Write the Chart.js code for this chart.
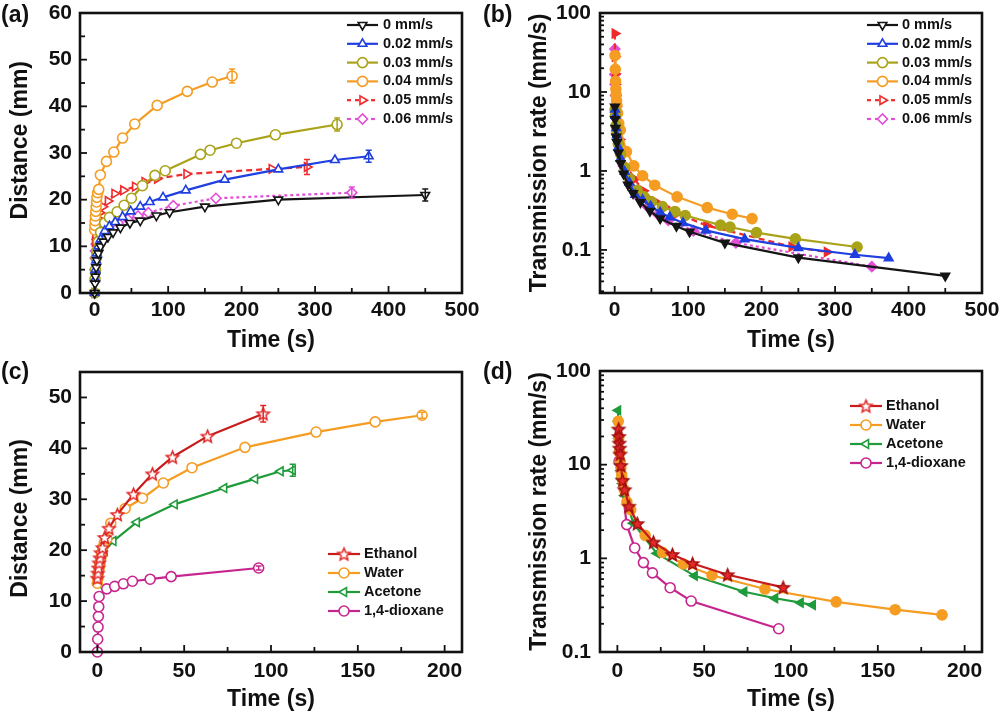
<!DOCTYPE html>
<html><head><meta charset="utf-8">
<script src="https://cdn.jsdelivr.net/npm/chart.js@4.4.0/dist/chart.umd.min.js"></script>
<style>
body{margin:0;background:#fff;}
#wrap{position:relative;width:1000px;height:714px;overflow:hidden;background:#fff;}
.pane{position:absolute;width:500px;height:357px;}
.pane canvas{display:block;}
.lbl{position:absolute;font:bold 23px "Liberation Sans",Arial,sans-serif;color:#111;line-height:23px;}
</style></head><body>
<div id="wrap">
<div class="pane" style="left:0;top:0"><canvas id="ca" width="500" height="357"></canvas></div>
<div class="pane" style="left:500px;top:0"><canvas id="cb" width="500" height="357"></canvas></div>
<div class="pane" style="left:0;top:357px"><canvas id="cc" width="500" height="357"></canvas></div>
<div class="pane" style="left:500px;top:357px"><canvas id="cd" width="500" height="357"></canvas></div>
<div class="lbl" style="left:1px;top:3px">(a)</div>
<div class="lbl" style="left:483px;top:3px">(b)</div>
<div class="lbl" style="left:1px;top:360px">(c)</div>
<div class="lbl" style="left:483px;top:360px">(d)</div>
</div>
<script>
// ---------------- DATA ----------------
const rateLabels = ['0 mm/s','0.02 mm/s','0.03 mm/s','0.04 mm/s','0.05 mm/s','0.06 mm/s'];
const solventLabels = ['Ethanol','Water','Acetone','1,4-dioxane'];
const logTicks = [0.1, 1, 10, 100];

// (a) distance vs time, and (b) transmission rate vs time
const t0   = [0,0.5,1,2,3,5,8,12,18,25,35,48,62,84,102,150,250,450];
const d0   = [0,2,3.5,5.5,7,8.5,10,11,12,13,14,15,15.5,16.6,17.3,18.5,20,21];
const rt0  = [0.3,0.5,1,2,3,5,8,12,18,25,35,48,62,84,102,150,250,450];
const r0   = [6.5,4.5,3.5,2.7,2.3,1.7,1.25,0.92,0.67,0.52,0.4,0.31,0.25,0.2,0.17,0.123,0.08,0.047];

const t002 = [0,0.5,1,2,3,5,8,13.6,20,28,38,49,62,75,93,124,177,250,327,373];
const d002 = [0,3,5,7,8.5,10,11.5,13.3,14.3,15.2,16.3,17.5,18.5,19.5,20.5,22,24.3,26.5,28.5,29.3];
const rt002= [0.5,1,2,3,5,8,13.6,20,28,38,49,62,75,93,124,177,250,327,373];
const r002 = [6,5,3.5,2.83,2,1.44,0.98,0.715,0.5,0.43,0.357,0.298,0.26,0.22,0.177,0.137,0.106,0.087,0.0786];

const t003 = [0,0.5,1,2,3,5,8,13.6,20,30.5,40,50,65,82,96,144,157,193,246,330];
const d003 = [0,3,5,7.5,9,11,13,15,16.2,17.4,18.8,20.3,23,25.2,26.2,29.7,30.6,32.1,33.9,36.1];
const rt003= [0.5,1,2,3,5,8,13.6,20,30.5,40,50,65,82,96,144,157,193,246,330];
const r003 = [6,5,3.75,3,2.2,1.63,1.1,0.81,0.57,0.47,0.406,0.354,0.307,0.273,0.206,0.195,0.166,0.138,0.109];

// 0.04 mm/s is the water run
const tW   = [0,0.3,0.6,1,1.5,2,2.5,3,4,5.5,7.7,16,26,38,54.5,85,126,160,187];
const dW   = [13.5,14.5,15.5,16.5,17.5,18.5,19.5,20.5,21.5,22.2,25.3,28.2,30.2,33.2,36.2,40.2,43.2,45.2,46.5];
const rtW  = [0.5,0.8,1.2,1.6,2,2.5,3,4,5.5,7.7,16,26,38,54.5,85,126,160,187];
const rW   = [29,19.4,13.7,10.9,9.25,7.8,6.8,5.4,4,3.3,1.76,1.16,0.87,0.66,0.47,0.343,0.283,0.249];

const t005 = [0,0.2,0.5,1,1.5,2.3,4,6.8,11,18,27,39,55,68,85,125,241,289];
const d005 = [0,8,11,12.5,13.5,14.9,16,17.2,18.5,19.7,21.3,22,22.8,23.8,24.5,25.5,26.6,27];
const rt005= [0.2,0.4,0.7,1,1.5,2.3,4,6.8,11,18,27,39,55,68,85,125,241,289];
const r005 = [55,28,17,12.5,9,6.5,4,2.5,1.68,1.09,0.79,0.56,0.41,0.35,0.29,0.204,0.11,0.094];

const t006 = [0,0.3,0.6,1,2,3,5,8,12,20,32,45,59,73,107,165,350];
const d006 = [0,5,7.5,9,10.5,11.5,12.5,13.3,13.8,14.4,15,15.8,16.5,17.2,18.7,20.3,21.5];
const rt006= [0.15,0.3,0.6,1,2,3,5,8,12,20,32,45,59,73,107,165,350];
const r006 = [35,16.7,12.5,9,5.25,3.83,2.5,1.66,1.15,0.72,0.47,0.35,0.28,0.236,0.175,0.123,0.0614];

// end-point error bars (mm) in (a)
const errEndA = [1.3, 1.3, 1.4, 1.5, 1.6, 1.2];

// (c) distance and (d) rate, solvents
const tE   = [0,0.3,0.6,1,1.5,2,3,4.2,6.7,11.5,20.8,31.7,43.3,63.5,95.5];
const dE   = [14.5,15.5,16.5,17.5,18.5,19.5,20.5,22.5,24.3,27,31,35,38.3,42.4,46.8];
const rtE  = [0.7,0.9,1.1,1.3,1.6,2,3,4.2,6.7,11.5,20.8,31.7,43.3,63.5,95.5];
const rE   = [24,20,17,15,13,9.8,6.8,5.4,3.6,2.35,1.49,1.1,0.88,0.668,0.49];

const tA   = [0.35,0.5,0.8,1.2,1.6,2,2.5,3,4.2,9.2,22.7,44.5,73,90.8,105.5,112.5];
const dA   = [13.5,14.5,15.2,15.9,16.5,17.2,18,18.8,19.9,21.8,25.5,29,32.2,34,35.5,35.7];
const rA   = [38,29,19,13.2,10.3,8.6,7.2,6.3,4.7,2.37,1.13,0.65,0.44,0.375,0.336,0.317];

const tD   = [0,0.2,0.4,0.6,0.8,1,5.4,10,15,20.2,30.4,42.5,92.9];
const dD   = [0,2.5,4.9,7,8.9,10.9,12.4,12.9,13.4,13.9,14.3,14.8,16.5];
const rtD  = [1,5.4,10,15,20.2,30.4,42.5,92.9];
const rD   = [10.9,2.29,1.29,0.9,0.7,0.486,0.35,0.177];

// end-point error bars (mm) in (c)
const errEndC = [1.6, 0.6, 1.2, 0.4];

// ---------------- HELPERS ----------------
const FONT = '"Liberation Sans", Arial, Helvetica, sans-serif';
const tickFont = {family: FONT, size: 21, weight: 'bold'};
const titleFont = {family: FONT, size: 23, weight: 'bold'};
const NB = '\u00a0';

function pts(xs, ys){ return xs.map((x,i)=>({x:x, y:ys[i]})); }

function starCanvas(stroke, fill, R){
  const s = Math.ceil(R*2+4);
  const c = document.createElement('canvas'); c.width = s; c.height = s;
  const g = c.getContext('2d');
  g.translate(s/2, s/2+0.6);
  g.beginPath();
  for (let k=0;k<10;k++){
    const rr = (k%2) ? R*0.45 : R;
    const ang = -Math.PI/2 + k*Math.PI/5;
    g.lineTo(rr*Math.cos(ang), rr*Math.sin(ang));
  }
  g.closePath();
  g.fillStyle = fill; g.fill();
  g.lineWidth = 1.5; g.strokeStyle = stroke; g.stroke();
  return c;
}

function ds(label, xs, ys, st, filled, errEnd){
  return {
    label: label, data: pts(xs, ys), showLine: true,
    borderColor: st.line || st.color, borderWidth: 2.2, borderDash: st.dash || [],
    pointStyle: filled && st.styleF ? st.styleF : st.style, legendStyle: st.style,
    pointRotation: st.rot || 0, pointRadius: st.r || 5,
    pointBorderColor: st.color, pointBackgroundColor: filled ? st.color : '#ffffff',
    pointBorderWidth: 1.6, tension: 0, clip: false,
    errEnd: errEnd || 0
  };
}

const framePlugin = {
  id: 'frame',
  afterDatasetsDraw(chart){
    // end-point error bars
    const ctx = chart.ctx;
    chart.data.datasets.forEach((d,i)=>{
      if (!d.errEnd) return;
      const meta = chart.getDatasetMeta(i);
      const last = d.data[d.data.length-1];
      const x = chart.scales.x.getPixelForValue(last.x);
      const y1 = chart.scales.y.getPixelForValue(last.y + d.errEnd);
      const y2 = chart.scales.y.getPixelForValue(last.y - d.errEnd);
      ctx.save(); ctx.strokeStyle = d.pointBorderColor; ctx.lineWidth = 1.5;
      ctx.beginPath(); ctx.moveTo(x,y1); ctx.lineTo(x,y2);
      ctx.moveTo(x-3,y1); ctx.lineTo(x+3,y1); ctx.moveTo(x-3,y2); ctx.lineTo(x+3,y2); ctx.stroke();
      ctx.restore();
    });
  },
  afterDraw(chart){
    const ctx = chart.ctx, a = chart.chartArea;
    const xs = chart.scales.x, ys = chart.scales.y;
    ctx.save();
    ctx.strokeStyle = '#111'; ctx.lineWidth = 1.8;
    const line = (x1,y1,x2,y2)=>{ctx.beginPath();ctx.moveTo(x1,y1);ctx.lineTo(x2,y2);ctx.stroke();};
    const linTicks = (sc)=>{
      const v = sc.ticks.map(t=>t.value);
      const step = v[1]-v[0];
      const minor = [];
      v.map(x=>x+step/2).concat([v[0]-step/2]).forEach(m=>{ if (m>sc.min && m<sc.max) minor.push(m); });
      return {major: v, minor};
    };
    const xt = linTicks(xs);
    xt.major.forEach(v=>{const p=xs.getPixelForValue(v); line(p,a.bottom,p,a.bottom-7);});
    xt.minor.forEach(v=>{const p=xs.getPixelForValue(v); line(p,a.bottom,p,a.bottom-5);});
    if (ys.type === 'logarithmic'){
      const lo = Math.floor(Math.log10(ys.min)), hi = Math.ceil(Math.log10(ys.max));
      for (let d=lo; d<=hi; d++){
        for (let k=1;k<=9;k++){
          const v = k*Math.pow(10,d);
          if (v < ys.min*0.999 || v > ys.max*1.001) continue;
          const p = ys.getPixelForValue(v);
          line(a.left, p, a.left + (k===1?7:4), p);
        }
      }
    } else {
      const yt = linTicks(ys);
      yt.major.forEach(v=>{const p=ys.getPixelForValue(v); line(a.left,p,a.left+7,p);});
      yt.minor.forEach(v=>{const p=ys.getPixelForValue(v); line(a.left,p,a.left+5,p);});
    }
    ctx.lineWidth = 2.6;
    ctx.strokeRect(a.left, a.top, a.right-a.left, a.bottom-a.top);
    ctx.restore();
  }
};

const legendPlugin = {
  id: 'kleg',
  afterDraw(chart, args, o){
    const ctx = chart.ctx;
    chart.data.datasets.forEach((d,i)=>{
      const y = o.y0 + i*o.dy;
      ctx.save();
      ctx.strokeStyle = d.borderColor; ctx.lineWidth = 2.2;
      ctx.setLineDash(d.borderDash && d.borderDash.length ? [4,4] : []);
      ctx.beginPath(); ctx.moveTo(o.x0, y); ctx.lineTo(o.x1, y); ctx.stroke();
      ctx.setLineDash([]);
      ctx.fillStyle = '#ffffff'; ctx.strokeStyle = d.pointBorderColor; ctx.lineWidth = 1.6;
      Chart.helpers.drawPoint(ctx, {pointStyle: d.legendStyle, rotation: d.pointRotation, radius: 5, borderWidth: 1.6}, (o.x0+o.x1)/2, y);
      ctx.fillStyle = '#111';
      ctx.font = 'bold 14.5px ' + FONT;
      ctx.textBaseline = 'middle'; ctx.textAlign = 'left';
      ctx.fillText(d.label, o.tx, y);
      ctx.restore();
    });
  }
};

function makeChart(id, datasets, c){
  const yAxis = c.log ? {
    type: 'logarithmic', min: c.ymin, max: c.ymax,
    afterBuildTicks: s=>{ s.ticks = logTicks.map(v=>({value:v})); },
    afterFit: s=>{ s.width = c.yw; s.paddingTop = 0; s.paddingBottom = 0; },
    ticks: {callback: v=>String(v), autoSkip:false, padding: 9, color:'#111', font: tickFont},
    grid: {display:false, drawTicks:false}, border: {display:false},
    title: {display:true, text: c.ytitle, color:'#111', font:titleFont, padding:{top:c.ytp, bottom:0}}
  } : {
    type: 'linear', min: c.ymin, max: c.ymax,
    afterFit: s=>{ s.width = c.yw; s.paddingTop = 0; s.paddingBottom = 0; },
    ticks: {stepSize: c.ystep, includeBounds:false, autoSkip:false, padding: 8, color:'#111', font: tickFont},
    grid: {display:false, drawTicks:false}, border: {display:false},
    title: {display:true, text: c.ytitle, color:'#111', font:titleFont, padding:{top:c.ytp, bottom:0}}
  };
  return new Chart(document.getElementById(id), {
    type: 'scatter',
    data: {datasets: datasets},
    options: {
      responsive: false, animation: false, events: [],
      layout: {padding: {top: c.pt, right: c.pr, left: 0, bottom: 0}},
      plugins: {legend: {display:false}, tooltip: {enabled:false}, kleg: c.leg},
      scales: {
        x: {
          type: 'linear', min: c.xmin, max: c.xmax,
          afterFit: s=>{ s.height = c.xh; s.paddingLeft = 0; s.paddingRight = 0; },
          ticks: {stepSize: c.xstep, includeBounds:false, autoSkip:false, maxRotation:0, padding: c.xpad, color:'#111', font: tickFont},
          grid: {display:false, drawTicks:false}, border: {display:false},
          title: {display:true, text:'Time (s)', color:'#111', font:titleFont, padding:{top:0, bottom:c.xtp}}
        },
        y: yAxis
      }
    },
    plugins: [framePlugin, legendPlugin]
  });
}

// ---------------- STYLES ----------------
const S0   = {color:'#151515', style:'triangle', rot:180};
const S002 = {color:'#1f3fe0', style:'triangle'};
const S003 = {color:'#aaa31a', style:'circle'};
const S004 = {color:'#f59c22', style:'circle'};
const S005 = {color:'#ee2a2a', style:'triangle', rot:90, dash:[6,4]};
const S006 = {color:'#e24fd6', style:'rectRot', dash:[3,3]};
const SE = {color:'#e02424', line:'#c81c1c', style: starCanvas('#e02424', '#ffffff', 6.5), styleF: starCanvas('#a01010', '#e52a2a', 6.5)};
const SW = {color:'#f59c22', style:'circle'};
const SA = {color:'#1f9b3b', style:'triangle', rot:-90};
const SD = {color:'#c7258e', style:'circle'};

// ---------------- CHARTS ----------------
makeChart('ca', [
  ds(rateLabels[0], t0, d0, S0, false, errEndA[0]),
  ds(rateLabels[1], t002, d002, S002, false, errEndA[1]),
  ds(rateLabels[2], t003, d003, S003, false, errEndA[2]),
  ds(rateLabels[3], tW, dW, S004, false, errEndA[3]),
  ds(rateLabels[4], t005, d005, S005, false, errEndA[4]),
  ds(rateLabels[5], t006, d006, S006, false, errEndA[5])
], {xmin:-20, xmax:500, xstep:100, ymin:0, ymax:60, ystep:10, pt:13, pr:38, yw:80, xh:64, xpad:5, xtp:3, ytp:7,
    ytitle: NB+NB+NB+NB+'Distance (mm)',
    leg:{x0:347, x1:378, tx:383, y0:25, dy:18.8}});

makeChart('cb', [
  ds(rateLabels[0], rt0, r0, S0, true),
  ds(rateLabels[1], rt002, r002, S002, true),
  ds(rateLabels[2], rt003, r003, S003, true),
  ds(rateLabels[3], rtW, rW, S004, true),
  ds(rateLabels[4], rt005, r005, S005, true),
  ds(rateLabels[5], rt006, r006, S006, true)
], {log:true, xmin:-20, xmax:500, xstep:100, ymin:0.0285, ymax:100, pt:13, pr:18, yw:100, xh:64, xpad:5, xtp:3, ytp:26,
    ytitle: 'Transmission rate (mm/s)',
    leg:{x0:367, x1:398, tx:402, y0:25, dy:18.8}});

makeChart('cc', [
  ds(solventLabels[0], tE, dE, SE, false, errEndC[0]),
  ds(solventLabels[1], tW, dW, SW, false, errEndC[1]),
  ds(solventLabels[2], tA, dA, SA, false, errEndC[2]),
  ds(solventLabels[3], tD, dD, SD, false, errEndC[3])
], {xmin:-10, xmax:210, xstep:50, ymin:0, ymax:55, ystep:10, pt:15, pr:38, yw:80, xh:62, xpad:7, xtp:1, ytp:7,
    ytitle: 'Distance (mm)'+NB+NB,
    leg:{x0:328, x1:360, tx:364, y0:197, dy:19}});

makeChart('cd', [
  ds(solventLabels[0], rtE, rE, SE, true),
  ds(solventLabels[1], rtW, rW, SW, true),
  ds(solventLabels[2], tA, rA, SA, true),
  ds(solventLabels[3], rtD, rD, SD, false)
], {log:true, xmin:-10, xmax:210, xstep:50, ymin:0.1, ymax:100, pt:14, pr:18, yw:100, xh:62, xpad:7, xtp:1, ytp:26,
    ytitle: 'Transmission rate (mm/s)',
    leg:{x0:350, x1:382, tx:386, y0:49, dy:19}});
</script>
</body></html>
